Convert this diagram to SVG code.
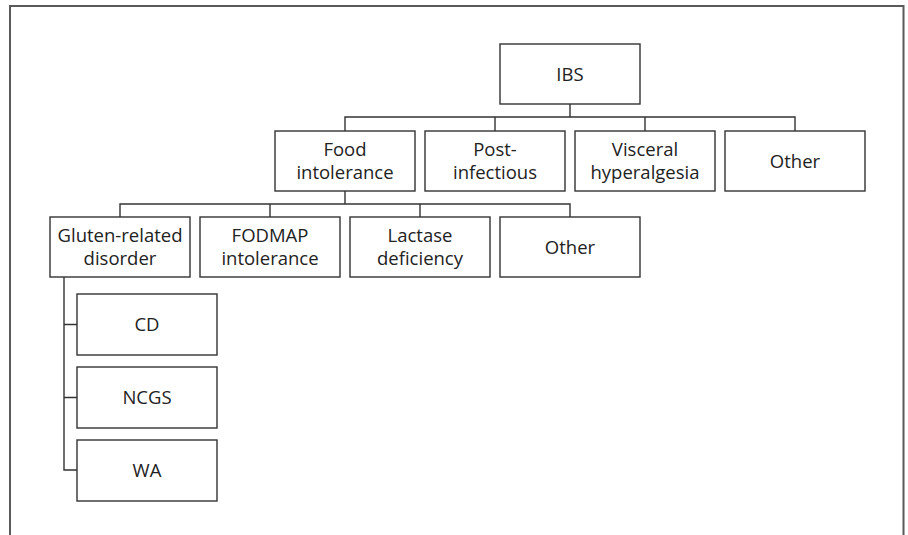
<svg xmlns="http://www.w3.org/2000/svg" width="908" height="535" viewBox="0 0 908 535">
<style>
.frame{fill:none;stroke:#5a5a5a;stroke-width:2}
.box{fill:#fff;stroke:#333;stroke-width:1.4}
.conn{fill:none;stroke:#333;stroke-width:1.4}
text{font-family:"Open Sans","Noto Sans","Liberation Sans",sans-serif;font-size:18.5px;fill:#222;text-anchor:middle}
</style>
<rect width="908" height="535" fill="#fff"/>
<path class="frame" d="M10,536 V6 H903.5 V536"/>
<g id="connectors">
<path class="conn" d="M570,104 V117 M345,131 V117 H795 V131 M495,117 V131 M645,117 V131"/>
<path class="conn" d="M345,191 V204 M120,217 V204 H570 V217 M270,204 V217 M420,204 V217"/>
<path class="conn" d="M64,277 V470 H77 M64,324.5 H77 M64,397.5 H77"/>
</g>
<g id="ibs"><rect class="box" x="500" y="44" width="140" height="60"/><text x="570" y="80.7">IBS</text></g>
<g id="food"><rect class="box" x="275" y="131" width="140" height="60"/><text x="345" y="156.2">Food</text><text x="345" y="179.2">intolerance</text></g>
<g id="post"><rect class="box" x="425" y="131" width="140" height="60"/><text x="495" y="156.2">Post-</text><text x="495" y="179.2">infectious</text></g>
<g id="visceral"><rect class="box" x="575" y="131" width="140" height="60"/><text x="645" y="156.2">Visceral</text><text x="645" y="179.2">hyperalgesia</text></g>
<g id="other1"><rect class="box" x="725" y="131" width="140" height="60"/><text x="795" y="167.7">Other</text></g>
<g id="gluten"><rect class="box" x="50" y="217" width="140" height="60"/><text x="120" y="242.2">Gluten-related</text><text x="120" y="265.2">disorder</text></g>
<g id="fodmap"><rect class="box" x="200" y="217" width="140" height="60"/><text x="270" y="242.2">FODMAP</text><text x="270" y="265.2">intolerance</text></g>
<g id="lactase"><rect class="box" x="350" y="217" width="140" height="60"/><text x="420" y="242.2">Lactase</text><text x="420" y="265.2">deficiency</text></g>
<g id="other2"><rect class="box" x="500" y="217" width="140" height="60"/><text x="570" y="253.7">Other</text></g>
<g id="cd"><rect class="box" x="77" y="294" width="140" height="61"/><text x="147" y="331.2">CD</text></g>
<g id="ncgs"><rect class="box" x="77" y="367" width="140" height="61"/><text x="147" y="404.2">NCGS</text></g>
<g id="wa"><rect class="box" x="77" y="440" width="140" height="61"/><text x="147" y="477.2">WA</text></g>
</svg>
